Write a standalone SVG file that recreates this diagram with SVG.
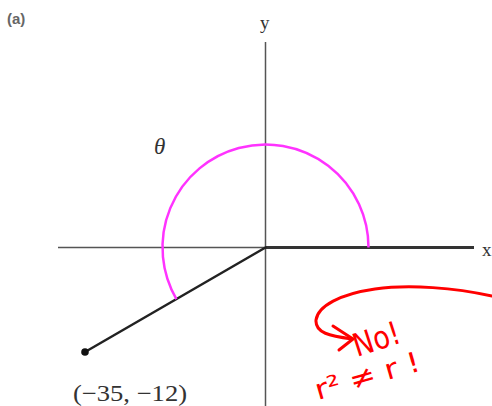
<svg xmlns="http://www.w3.org/2000/svg" width="492" height="406" viewBox="0 0 492 406">
<style>
.axis{stroke:#555;stroke-width:1.5;fill:none}
.lbl{font-family:"Liberation Serif",serif;fill:#333}
.red{stroke:#f00;stroke-width:3;fill:none;stroke-linecap:round;stroke-linejoin:round}
.hand{font-family:"DejaVu Sans",sans-serif;fill:#f00}
</style>
<rect width="492" height="406" fill="#fff"/>
<text x="7" y="24" font-family="'Liberation Sans',sans-serif" font-size="15" font-weight="bold" fill="#666">(a)</text>
<g id="connectors">
<line class="axis" x1="265.5" y1="42" x2="265.5" y2="406"/>
<line class="axis" x1="58" y1="247.5" x2="265.5" y2="247.5"/>
<line x1="265.5" y1="247.5" x2="474" y2="247.5" stroke="#333" stroke-width="3"/>
<line x1="265.5" y1="247.5" x2="85" y2="352" stroke="#222" stroke-width="2.5" stroke-linecap="round"/>
<path d="M368.5,247.5 A103,103 0 1 0 176.4,299.1" fill="none" stroke="#f3f" stroke-width="2.5"/>
</g>
<g id="point">
<circle cx="85" cy="352" r="3.8" fill="#111"/>
<text class="lbl" x="73" y="401" font-size="23" textLength="114" lengthAdjust="spacingAndGlyphs">(−35, −12)</text>
</g>
<g id="labels">
<text class="lbl" x="260" y="29" font-size="19">y</text>
<text class="lbl" x="482" y="256" font-size="19">x</text>
<text class="lbl" x="154" y="154" font-size="23" font-style="italic">θ</text>
</g>
<g id="annotation">
<path class="red" d="M492,296 C455,288 410,284 375,289 C340,294 318,306 316,320 C315,333 330,336 352,339"/>
<path class="red" d="M333,326 L353,339 L339,350"/>
<text class="hand" x="357" y="357" font-size="32" textLength="48" lengthAdjust="spacingAndGlyphs" transform="rotate(-18 357 357)">No!</text>
<text class="hand" x="318" y="400" font-size="28" textLength="108" lengthAdjust="spacingAndGlyphs" transform="rotate(-16 318 400)">r² ≠ r !</text>
</g>
</svg>
